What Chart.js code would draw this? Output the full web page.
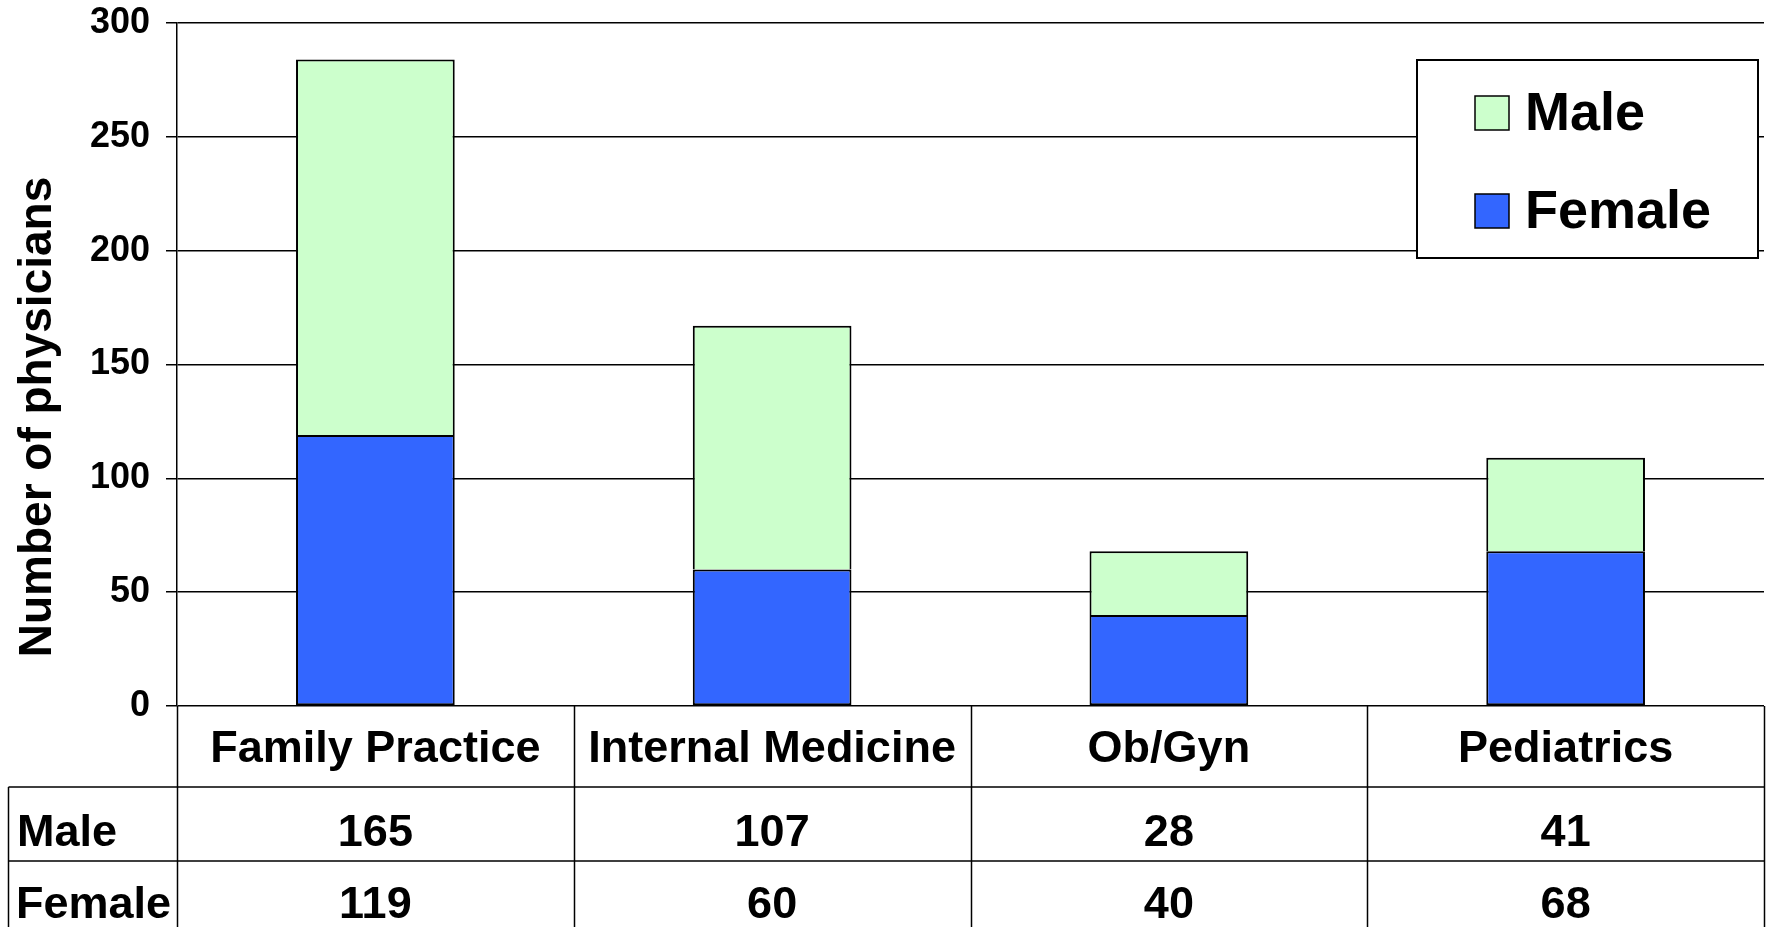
<!DOCTYPE html>
<html>
<head>
<meta charset="utf-8">
<script src="https://cdn.jsdelivr.net/npm/chart.js@4.4.1/dist/chart.umd.min.js"></script>
<style>
  html, body { margin: 0; padding: 0; background: #fff; overflow: hidden; }
  canvas { display: block; }
</style>
</head>
<body>
<canvas id="chart" width="1767" height="927"></canvas>
<script>
'use strict';

var categories = ['Family Practice', 'Internal Medicine', 'Ob/Gyn', 'Pediatrics'];
var maleValues = [165, 107, 28, 41];
var femaleValues = [119, 60, 40, 68];
var yMax = 300;
var yStep = 50;
var yTitle = 'Number of physicians';

var maleColor = '#ccffcc';
var femaleColor = '#3366ff';
var fontFamily = "'Liberation Sans', Arial, sans-serif";

// legend box, y title and the data table under the plot
var tablePlugin = {
  id: 'dataTable',
  afterDraw: function (chart) {
    var ctx = chart.ctx,
        area = chart.chartArea,
        x = chart.scales.x;
    var colW = (area.right - area.left) / categories.length;
    var top = area.bottom, r1 = top + 81, r2 = r1 + 74, bottom = chart.height;

    ctx.save();
    ctx.strokeStyle = '#000';
    ctx.lineWidth = 1.5;
    ctx.beginPath();
    for (var i = 0; i <= categories.length; i++) {
      var bx = Math.round(area.left + i * colW) + 0.5;
      ctx.moveTo(bx, top);
      ctx.lineTo(bx, bottom);
    }
    ctx.moveTo(8.5, r1); ctx.lineTo(area.right, r1);
    ctx.moveTo(8.5, r2); ctx.lineTo(area.right, r2);
    ctx.moveTo(8.5, r1); ctx.lineTo(8.5, bottom);
    ctx.stroke();

    ctx.fillStyle = '#000';
    ctx.font = 'bold 45px ' + fontFamily;
    ctx.textBaseline = 'middle';
    ctx.textAlign = 'center';
    categories.forEach(function (label, idx) {
      var cx = x.getPixelForValue(idx);
      ctx.fillText(label, cx, top + 44);
      ctx.fillText(String(maleValues[idx]), cx, r1 + 47);
      ctx.fillText(String(femaleValues[idx]), cx, r2 + 45);
    });
    ctx.textAlign = 'left';
    ctx.fillText('Male', 17, r1 + 47);
    ctx.fillText('Female', 16, r2 + 45);

    // y axis title
    ctx.save();
    ctx.translate(38, 417);
    ctx.rotate(-Math.PI / 2);
    ctx.textAlign = 'center';
    ctx.font = 'bold 46px ' + fontFamily;
    ctx.fillText(yTitle, 0, 0);
    ctx.restore();

    // legend
    ctx.fillStyle = '#fff';
    ctx.fillRect(1417, 60, 341, 198);
    ctx.lineWidth = 2;
    ctx.strokeRect(1417, 60, 341, 198);
    var items = chart.data.datasets.slice().reverse();
    items.forEach(function (ds, idx) {
      var sy = 96 + idx * 98;
      ctx.fillStyle = ds.backgroundColor;
      ctx.fillRect(1475, sy, 34, 34);
      ctx.lineWidth = 1.5;
      ctx.strokeRect(1475, sy, 34, 34);
      ctx.fillStyle = '#000';
      ctx.font = 'bold 54px ' + fontFamily;
      ctx.textAlign = 'left';
      ctx.fillText(ds.label, 1525, sy + 19);
    });
    ctx.restore();
  }
};

var chart = new Chart(document.getElementById('chart'), {
  type: 'bar',
  data: {
    labels: categories,
    datasets: [
      { label: 'Female', data: femaleValues, backgroundColor: femaleColor,
        borderWidth: 2 },
      { label: 'Male', data: maleValues, backgroundColor: maleColor,
        borderWidth: { top: 2, left: 2, right: 2, bottom: 0 } }
    ]
  },
  options: {
    responsive: false,
    animation: false,
    layout: { padding: { top: 23, right: 3, bottom: 221, left: 0 } },
    datasets: {
      bar: {
        barPercentage: 0.4,
        categoryPercentage: 1.0,
        borderColor: '#000',
        borderSkipped: false
      }
    },
    plugins: {
      legend: { display: false },
      tooltip: { enabled: false }
    },
    scales: {
      x: { stacked: true, display: false },
      y: {
        stacked: true,
        min: 0,
        max: yMax,
        ticks: {
          stepSize: yStep,
          color: '#000',
          padding: 16,
          font: { family: fontFamily, size: 36, weight: 'bold' }
        },
        grid: { color: '#000', lineWidth: 1.5, tickLength: 11 },
        border: { display: true, color: '#000', width: 1.5 },
        afterFit: function (scale) {
          scale.width = 177;
          scale.paddingTop = 0;
          scale.paddingBottom = 0;
        }
      }
    }
  },
  plugins: [tablePlugin]
});
</script>
</body>
</html>
